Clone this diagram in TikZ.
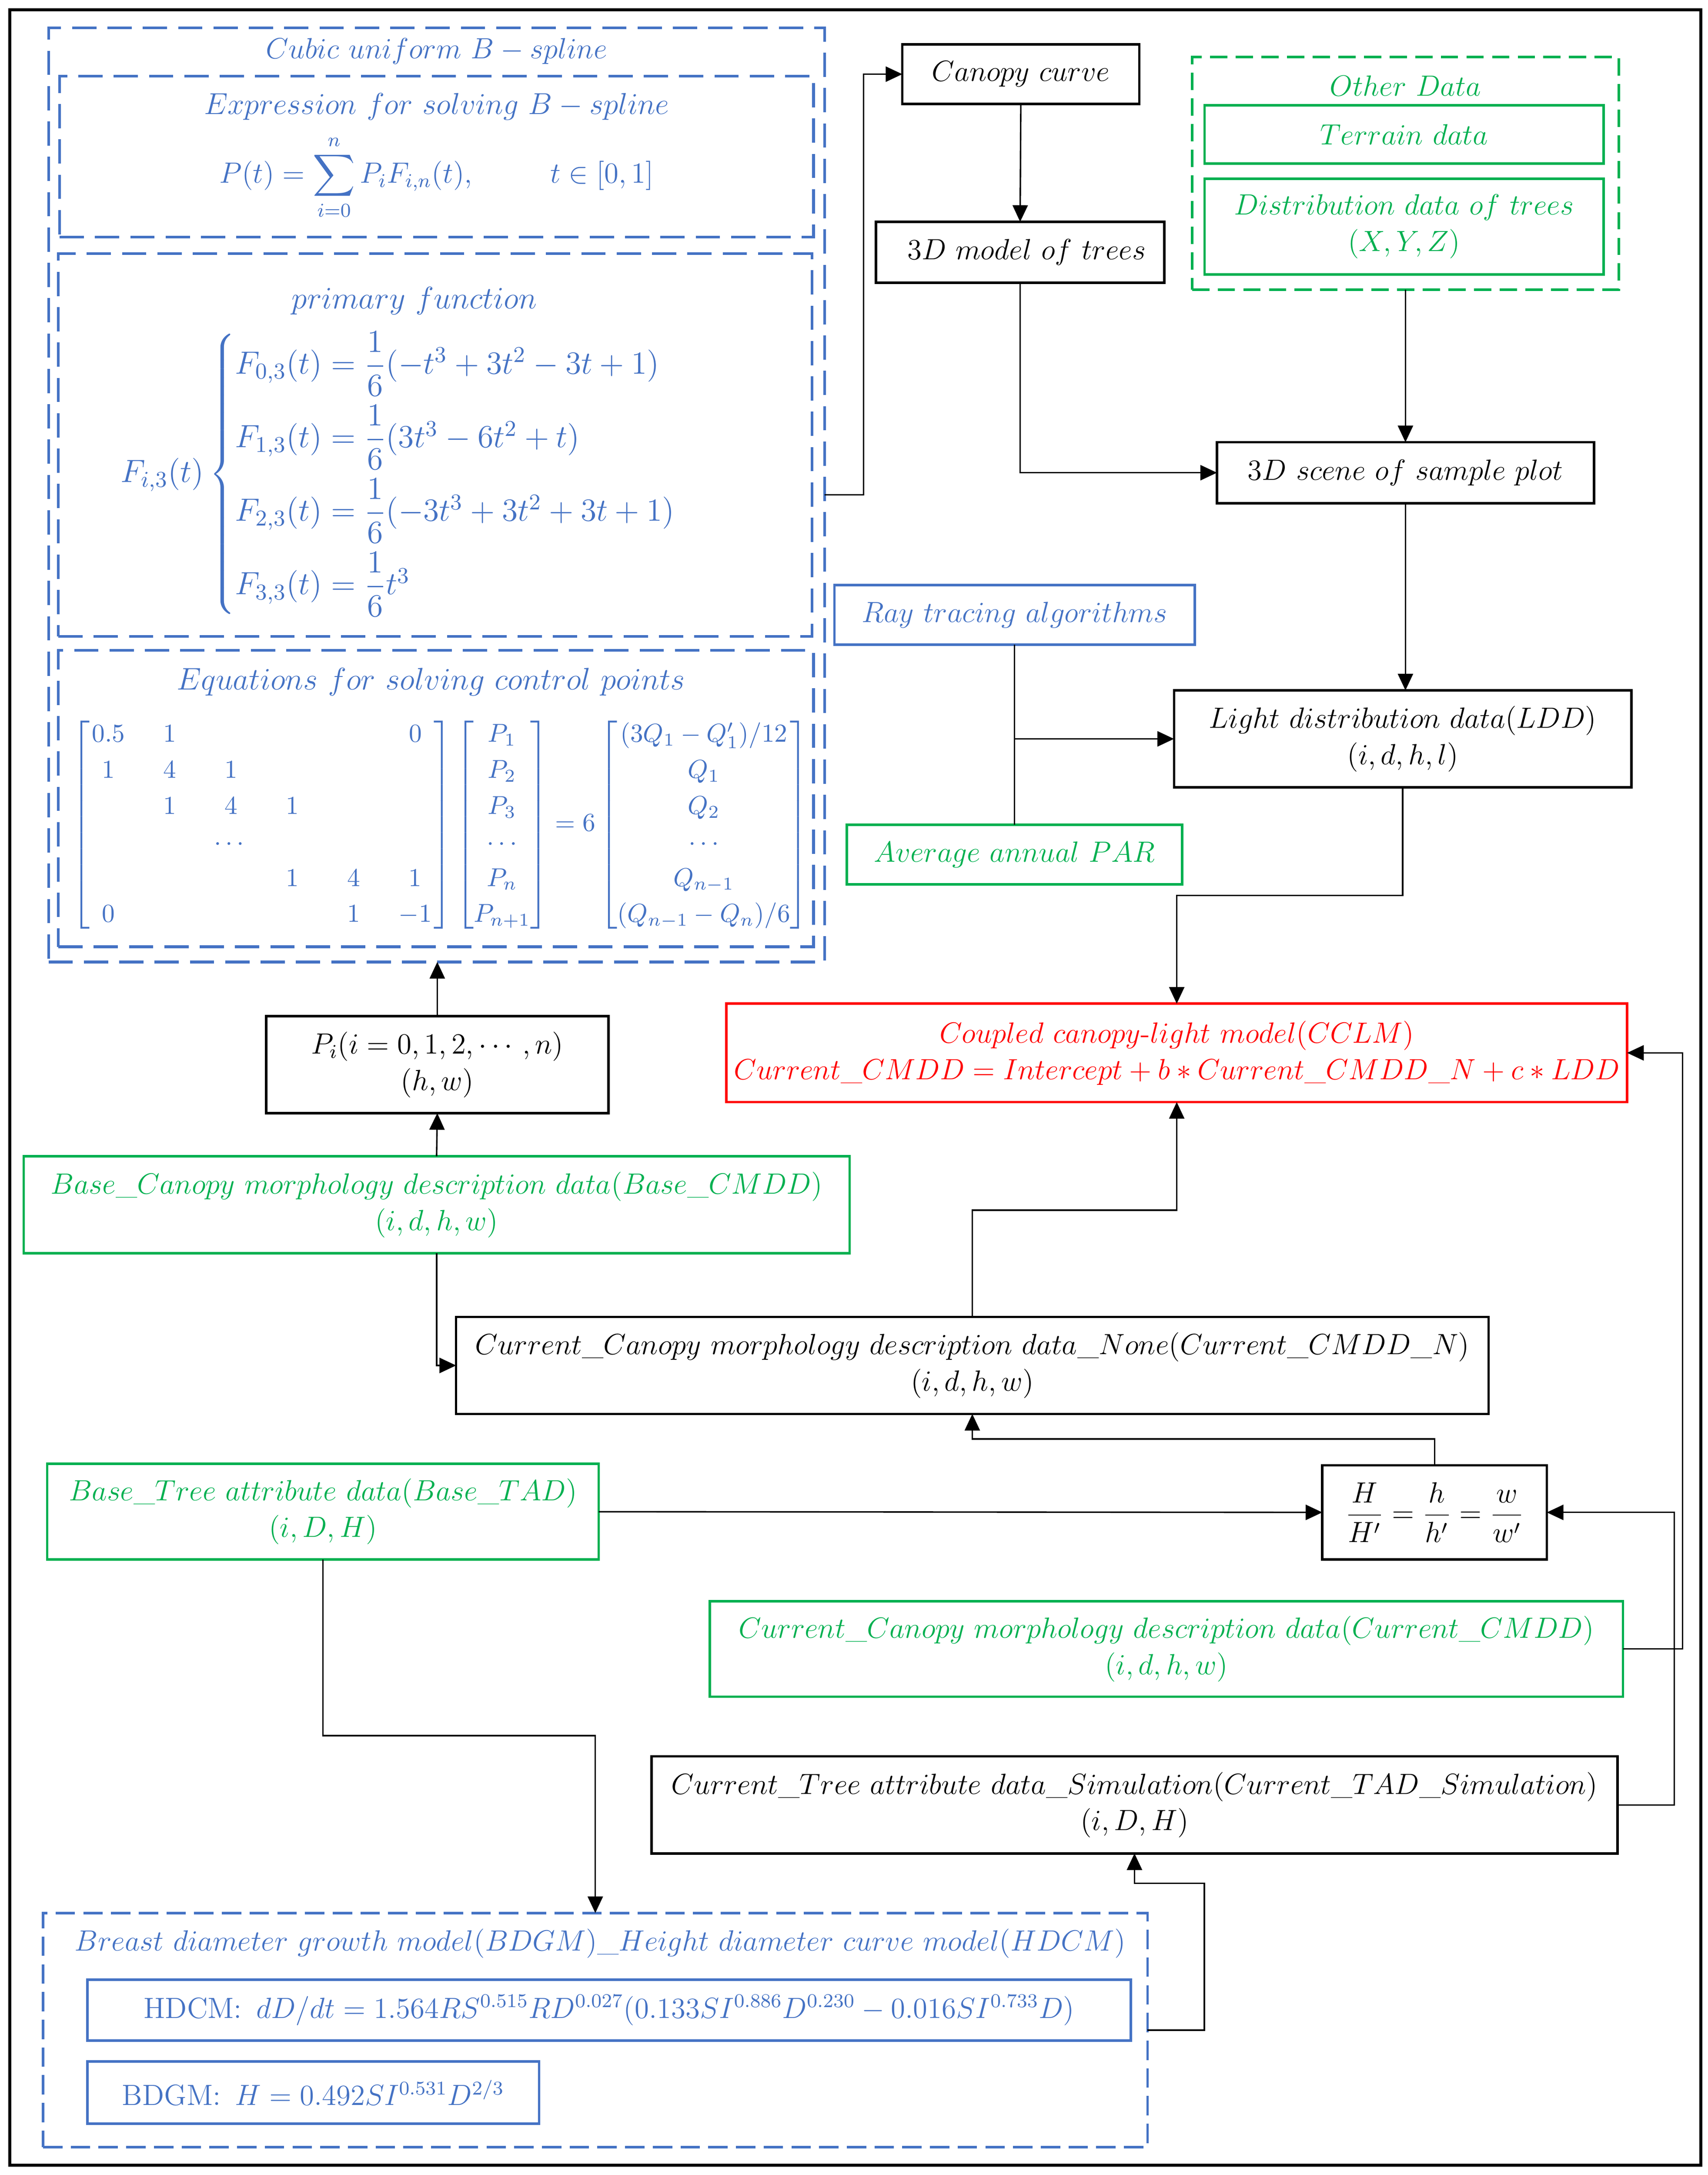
\RequirePackage{fix-cm}
\documentclass[tikz,border=0pt]{standalone}
\usepackage{amsmath}
\usetikzlibrary{arrows.meta}
\definecolor{bl}{HTML}{4472C4}
\definecolor{gr}{HTML}{00B050}
\definecolor{rd}{HTML}{FF0000}
\newcommand\cc[1]{\makebox[15.2pt]{$#1$}}
\begin{document}
\begin{tikzpicture}[x=0.02cm,y=-0.02cm,
  every node/.style={inner sep=0pt,outer sep=0pt,font=\fontsize{12}{15}\selectfont},
  bbox/.style={draw=black,line width=1pt,rectangle,align=center},
  gbox/.style={draw=gr,text=gr,line width=1pt,rectangle,align=center},
  blbox/.style={draw=bl,text=bl,line width=1pt,rectangle,align=center},
  rbox/.style={draw=rd,text=rd,line width=1pt,rectangle,align=center},
  bldash/.style={draw=bl,line width=1.1pt,dash pattern=on 0.35cm off 0.16cm,rectangle},
  bldashs/.style={draw=bl,line width=1pt,dash pattern=on 0.28cm off 0.12cm,rectangle},
  grdash/.style={draw=gr,line width=1pt,dash pattern=on 0.25cm off 0.12cm,rectangle},
  arr/.style={line width=0.6pt,-{Triangle[length=0.24cm,width=0.22cm]}},
  ln/.style={line width=0.6pt}]
\useasboundingbox (0,0) rectangle (1232,1569);
\fill[white] (0,0) rectangle (1232,1569);
\draw[line width=1.2pt] (7,7) rectangle (1227,1562);

% ---- B-spline group
\node[bldash,minimum width=11.2cm,minimum height=13.48cm] (bspline) at (315,357) {};
\node[bldash,minimum width=10.88cm,minimum height=2.32cm] (expr) at (315,113) {};
\node[bldash,minimum width=10.88cm,minimum height=5.52cm] (prim) at (314,321) {};
\node[bldash,minimum width=10.9cm,minimum height=4.28cm] (eqs) at (314.5,576) {};
\node[text=bl] (t1) at (315,37) {$Cubic\ uniform\ B-spline$};
\node[text=bl,font=\fontsize{12.4}{15}\selectfont] (t2) at (315,77) {$Expression\ for\ solving\ B-spline$};
\node[text=bl] (f1) at (315,128) {$\displaystyle P(t)=\sum_{i=0}^{n}P_iF_{i,n}(t),\hspace{30pt} t\in[0,1]$};
\node[text=bl,font=\fontsize{12.8}{15}\selectfont] (t3) at (299,217) {$primary\ function$};
\node[text=bl,anchor=west,font=\fontsize{13.2}{16}\selectfont] (f2) at (87,342) {$\displaystyle F_{i,3}(t)\begin{cases}
F_{0,3}(t)=\dfrac16(-t^3+3t^2-3t+1)\\[7pt]
F_{1,3}(t)=\dfrac16(3t^3-6t^2+t)\\[7pt]
F_{2,3}(t)=\dfrac16(-3t^3+3t^2+3t+1)\\[7pt]
F_{3,3}(t)=\dfrac16t^3\end{cases}$};
\node[text=bl,font=\fontsize{12.8}{15}\selectfont] (t4) at (311,492) {$Equations\ for\ solving\ control\ points$};
\node[text=bl,font=\fontsize{10.6}{14.8}\selectfont] (f3) at (317.5,595) {$\setlength\arraycolsep{5pt}\begin{bmatrix}
\cc{0.5}&\cc{1}&&&&\cc{0}\\
\cc{1}&\cc{4}&\cc{1}&&&\\
&\cc{1}&\cc{4}&\cc{1}&&\\
&&\cc{\cdots}&&&\\
&&&\cc{1}&\cc{4}&\cc{1}\\
\cc{0}&&&&\cc{1}&\cc{-1}\end{bmatrix}
\begin{bmatrix}P_1\\P_2\\P_3\\\cdots\\P_n\\P_{n+1}\end{bmatrix}=6
\begin{bmatrix}(3Q_1-Q_1')/12\\Q_1\\Q_2\\\cdots\\Q_{n-1}\\(Q_{n-1}-Q_n)/6\end{bmatrix}$};

% ---- right top
\node[bbox,minimum width=3.42cm,minimum height=0.86cm] (canopy) at (736.5,53.5) {$Canopy\ curve$};
\node[bbox,minimum width=4.16cm,minimum height=0.88cm] (model3d) at (736,182) {$\;\,3D\ model\ of\ trees$};
\node[grdash,minimum width=6.16cm,minimum height=3.36cm] (other) at (1014,125) {};
\node[text=gr] (tother) at (1014,62) {$Other\ Data$};
\node[gbox,minimum width=5.76cm,minimum height=0.84cm] (terrain) at (1013,97) {$Terrain\ data$};
\node[gbox,minimum width=5.76cm,minimum height=1.38cm] (distr) at (1013,163.5) {$Distribution\ data\ of\ trees$\\$(X,Y,Z)$};
\node[bbox,minimum width=5.44cm,minimum height=0.88cm] (scene) at (1014,341) {$3D\ scene\ of\ sample\ plot$};
\node[blbox,minimum width=5.2cm,minimum height=0.86cm] (ray) at (732,443.5) {$Ray\ tracing\ algorithms$};
\node[gbox,minimum width=4.84cm,minimum height=0.86cm] (par) at (732,616.5) {$Average\ annual\ PAR$};
\node[bbox,minimum width=6.6cm,minimum height=1.4cm] (ldd) at (1012,533) {$Light\ distribution\ data(LDD)$\\$(i,d,h,l)$};

% ---- middle
\node[rbox,minimum width=13.0cm,minimum height=1.42cm] (cclm) at (849,759.5) {$Coupled\ canopy\text{-}light\ model(CCLM)$\\$Current\_CMDD=Intercept+b*Current\_CMDD\_N+c*LDD$};
\node[bbox,minimum width=4.94cm,minimum height=1.4cm] (pi) at (315.5,768) {$P_i(i=0,1,2,\cdots,n)$\\$(h,w)$};
\node[gbox,minimum width=11.92cm,minimum height=1.4cm] (bcmdd) at (315,869) {$Base\_Canopy\ morphology\ description\ data(Base\_CMDD)$\\$(i,d,h,w)$};
\node[bbox,minimum width=14.9cm,minimum height=1.4cm] (cmddn) at (701.5,985) {$Current\_Canopy\ morphology\ description\ data\_None(Current\_CMDD\_N)$\\$(i,d,h,w)$};
\node[bbox,minimum width=3.24cm,minimum height=1.36cm] (ratio) at (1035,1091) {$\dfrac{H}{H'}=\dfrac{h}{h'}=\dfrac{w}{w'}$};
\node[gbox,minimum width=7.96cm,minimum height=1.38cm] (btad) at (233,1090.5) {$Base\_Tree\ attribute\ data(Base\_TAD)$\\$(i,D,H)$};
\node[gbox,minimum width=13.18cm,minimum height=1.38cm] (ccmdd) at (841.5,1189.5) {$Current\_Canopy\ morphology\ description\ data(Current\_CMDD)$\\$(i,d,h,w)$};
\node[bbox,minimum width=13.94cm,minimum height=1.4cm] (tadsim) at (818.5,1302) {$Current\_Tree\ attribute\ data\_Simulation(Current\_TAD\_Simulation)$\\$(i,D,H)$};

% ---- bottom group
\node[bldashs,minimum width=15.94cm,minimum height=3.38cm] (bdgm) at (429.5,1464.5) {};
\node[text=bl] (tbdgm) at (433,1402) {$Breast\ diameter\ growth\ model(BDGM)\_Height\ diameter\ curve\ model(HDCM)$};
\node[blbox,minimum width=15.06cm,minimum height=0.88cm] (hdcm) at (439.5,1450) {$\mathrm{HDCM}{:}\ \,dD/dt=1.564RS^{0.515}RD^{0.027}(0.133SI^{0.886}D^{0.230}-0.016SI^{0.733}D)$};
\node[blbox,minimum width=6.52cm,minimum height=0.9cm] (bdgmin) at (226,1509.5) {$\mathrm{BDGM}{:}\ \,H=0.492SI^{0.531}D^{2/3}$};

% ---- connectors
\draw[arr] (bspline.east) -- ++(28,0) |- (canopy.west);
\draw[arr] (canopy.south) -- (model3d.north);
\draw[arr] (model3d.south) |- (scene.west);
\draw[arr] (other.south) -- (scene.north);
\draw[arr] (scene.south) -- (scene.south |- ldd.north);
\draw[ln] (ray.south) -- (par.north);
\coordinate (jray) at (ray.south |- ldd.west);
\draw[arr] (jray) -- (ldd.west);
\draw[arr] (ldd.south) -- ++(0,78) -| (cclm.north);
\draw[arr] (pi.north) -- (pi.north |- bspline.south);
\draw[arr] (bcmdd.north) -- (pi.south);
\draw[arr] (bcmdd.south) |- (cmddn.west);
\draw[arr] (cmddn.north) -- ++(0,-77) -| (cclm.south);
\draw[arr] (ratio.north) -- ++(0,-19) -| (cmddn.south);
\draw[arr] (btad.east) -- (ratio.west);
\draw[arr] (ccmdd.east) -- ++(43,0) |- (cclm.east);
\draw[arr] (tadsim.east) -- ++(41,0) |- (ratio.east);
\draw[arr] (btad.south) -- ++(0,127) -| (bdgm.north);
\draw[arr] (bdgm.east) -- ++(41,0) -- ++(0,-106) -| (tadsim.south);
\end{tikzpicture}
\end{document}
